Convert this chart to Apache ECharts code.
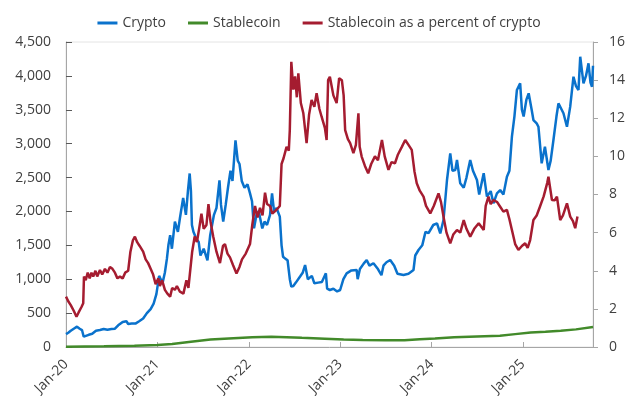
<!DOCTYPE html>
<html>
<head>
<meta charset="utf-8">
<script src="https://cdn.jsdelivr.net/npm/echarts@6/dist/echarts.min.js"></script>
<style>html,body{margin:0;padding:0;background:#fff}#c{width:638px;height:401px}</style>
</head>
<body>
<div id="c"></div>
<script>
// ---- Data ----
const seriesNames = ['Crypto', 'Stablecoin', 'Stablecoin as a percent of crypto'];
const xTickLabels = ['Jan-20', 'Jan-21', 'Jan-22', 'Jan-23', 'Jan-24', 'Jan-25'];
const leftTicks = [0, 500, 1000, 1500, 2000, 2500, 3000, 3500, 4000, 4500];
const rightTicks = [0, 2, 4, 6, 8, 10, 12, 14, 16];

// Crypto market cap (left axis)
const cryptoDates = [
'2020-01-01','2020-01-10','2020-01-20','2020-02-01','2020-02-14','2020-02-25','2020-03-05','2020-03-12','2020-03-20','2020-04-01','2020-04-15','2020-04-30','2020-05-16','2020-05-31','2020-06-15','2020-07-01','2020-07-15','2020-07-28','2020-08-15','2020-08-30','2020-09-06','2020-09-20','2020-10-05','2020-10-20','2020-11-05','2020-11-20','2020-11-26','2020-12-05','2020-12-17','2020-12-28',
'2021-01-08','2021-01-14','2021-01-22','2021-01-31','2021-02-08','2021-02-14','2021-02-21','2021-02-28','2021-03-12','2021-03-24','2021-04-01','2021-04-14','2021-04-25','2021-05-03','2021-05-10','2021-05-15','2021-05-19','2021-05-25','2021-06-05','2021-06-15','2021-06-22','2021-07-05','2021-07-20','2021-07-31','2021-08-15','2021-08-25','2021-09-06','2021-09-12','2021-09-21','2021-10-01','2021-10-10','2021-10-20','2021-10-28','2021-11-09','2021-11-18','2021-11-25','2021-12-04','2021-12-15','2021-12-27',
'2022-01-06','2022-01-14','2022-01-22','2022-02-02','2022-02-10','2022-02-24','2022-03-05','2022-03-15','2022-03-27','2022-04-04','2022-04-12','2022-04-22','2022-05-05','2022-05-12','2022-05-18','2022-05-28','2022-06-05','2022-06-14','2022-06-20','2022-06-28','2022-07-08','2022-07-25','2022-08-05','2022-08-14','2022-08-25','2022-09-10','2022-09-20','2022-10-05','2022-10-20','2022-11-05','2022-11-10','2022-11-21','2022-12-05','2022-12-20',
'2023-01-01','2023-01-14','2023-01-27','2023-02-15','2023-03-08','2023-03-12','2023-03-21','2023-04-05','2023-04-17','2023-04-28','2023-05-14','2023-06-01','2023-06-15','2023-06-23','2023-07-05','2023-07-20','2023-08-05','2023-08-18','2023-09-11','2023-10-01','2023-10-21','2023-10-28','2023-11-10','2023-11-25','2023-12-08','2023-12-20',
'2024-01-08','2024-01-23','2024-02-05','2024-02-18','2024-03-03','2024-03-16','2024-03-25','2024-04-05','2024-04-12','2024-04-25','2024-05-09','2024-05-20','2024-06-04','2024-06-15','2024-07-01','2024-07-10','2024-07-28','2024-08-10','2024-08-25','2024-09-05','2024-09-19','2024-10-02','2024-10-15','2024-10-29','2024-11-08','2024-11-18','2024-11-28','2024-12-08','2024-12-21','2024-12-28',
'2025-01-04','2025-01-15','2025-01-24','2025-02-05','2025-02-12','2025-02-25','2025-03-04','2025-03-17','2025-03-30','2025-04-13','2025-04-22','2025-05-03','2025-05-15','2025-05-23','2025-06-05','2025-06-12','2025-06-26','2025-07-09','2025-07-22','2025-08-01','2025-08-11','2025-08-18','2025-08-31','2025-09-10','2025-09-20','2025-09-28','2025-10-04','2025-10-08'];
const cryptoValues = [
190,210,240,270,300,270,250,152,170,180,195,240,250,265,255,265,270,320,370,380,340,345,345,380,420,500,480,560,640,780,
1050,1000,950,1100,1300,1500,1650,1450,1850,1700,1900,2200,1950,2300,2560,2300,1800,1700,1600,1550,1350,1450,1280,1650,1950,2050,2460,2100,1850,2100,2350,2600,2450,3050,2750,2700,2450,2350,2400,
2267,2150,1750,1972,2000,1750,1850,1800,1950,2267,2000,2050,1923,1500,1332,1300,1280,1000,890,900,950,1040,1100,1210,1000,1050,940,950,960,1087,860,841,860,820,
841,1000,1087,1130,1136,1000,1150,1230,1283,1200,1235,1150,1060,1200,1250,1283,1200,1080,1062,1080,1136,1350,1431,1500,1700,1680,
1800,1825,1677,1874,2464,2857,2600,2610,2760,2415,2350,2500,2759,2600,2464,2250,2563,2218,2300,2120,2267,2316,2250,2513,2600,3103,3400,3792,3890,3500,
3400,3650,3743,3500,3349,3300,3250,2710,2956,2611,2750,3054,3400,3595,3500,3448,3250,3546,3988,3850,3792,4283,3890,4000,4185,3900,3840,4150];

// Stablecoin market cap (left axis)
const stableDates = ['2020-01-01','2020-06-01','2020-10-01','2021-01-01','2021-03-01','2021-05-15','2021-08-01','2021-11-01','2022-01-15','2022-04-01','2022-06-01','2022-08-01','2022-11-01','2023-01-15','2023-04-01','2023-07-01','2023-09-15','2023-11-15','2024-01-15','2024-04-01','2024-07-01','2024-10-01','2024-12-01','2025-02-01','2025-04-01','2025-06-01','2025-08-01','2025-10-08'];
const stableValues = [5,10,18,28,45,78,110,130,145,150,145,135,122,110,105,100,98,115,125,145,155,165,190,215,225,240,260,295];

// Stablecoin as a percent of crypto (right axis)
const pctDates = [
'2020-01-01','2020-01-10','2020-01-20','2020-02-01','2020-02-12','2020-02-20','2020-03-03','2020-03-10','2020-03-13','2020-03-20','2020-03-28','2020-04-05','2020-04-12','2020-04-19','2020-04-28','2020-05-05','2020-05-16','2020-05-25','2020-06-05','2020-06-15','2020-06-25','2020-07-05','2020-07-15','2020-07-25','2020-08-04','2020-08-15','2020-08-25','2020-09-06','2020-09-15','2020-09-25','2020-10-03','2020-10-12','2020-10-22','2020-11-05','2020-11-15','2020-11-25','2020-12-05','2020-12-15','2020-12-25',
'2021-01-05','2021-01-11','2021-01-20','2021-01-31','2021-02-10','2021-02-21','2021-03-01','2021-03-12','2021-03-20','2021-04-01','2021-04-15','2021-04-27','2021-05-05','2021-05-12','2021-05-20','2021-05-30','2021-06-08','2021-06-18','2021-06-26','2021-07-05','2021-07-16','2021-07-24','2021-08-01','2021-08-12','2021-08-25','2021-09-08','2021-09-20','2021-09-28','2021-10-08','2021-10-18','2021-10-30','2021-11-13','2021-11-25','2021-12-05','2021-12-20',
'2022-01-06','2022-01-15','2022-01-26','2022-02-05','2022-02-15','2022-02-25','2022-03-07','2022-03-15','2022-03-27','2022-04-05','2022-04-22','2022-05-05','2022-05-12','2022-05-20','2022-06-01','2022-06-10','2022-06-14','2022-06-20','2022-06-28','2022-07-05','2022-07-12','2022-07-18','2022-07-28','2022-08-07','2022-08-20','2022-08-30','2022-09-09','2022-09-20','2022-09-29','2022-10-10','2022-10-19','2022-11-01','2022-11-08','2022-11-14','2022-11-21','2022-12-05','2022-12-18','2022-12-28',
'2023-01-08','2023-01-15','2023-01-21','2023-02-01','2023-02-10','2023-02-23','2023-03-05','2023-03-15','2023-03-20','2023-03-28','2023-04-10','2023-04-23','2023-05-05','2023-05-20','2023-06-01','2023-06-17','2023-06-28','2023-07-13','2023-07-25','2023-08-08','2023-08-20','2023-09-05','2023-09-18','2023-10-01','2023-10-14','2023-10-25','2023-11-03','2023-11-15','2023-11-30','2023-12-10','2023-12-27',
'2024-01-10','2024-01-29','2024-02-08','2024-02-18','2024-03-01','2024-03-16','2024-03-28','2024-04-12','2024-04-25','2024-05-09','2024-05-20','2024-06-04','2024-06-20','2024-07-08','2024-07-28','2024-08-05','2024-08-16','2024-08-25','2024-09-05','2024-09-20','2024-10-02','2024-10-15','2024-10-29','2024-11-08','2024-11-18','2024-12-01','2024-12-14','2024-12-28',
'2025-01-10','2025-01-20','2025-01-30','2025-02-12','2025-02-25','2025-03-10','2025-03-25','2025-04-08','2025-04-13','2025-04-27','2025-05-08','2025-05-17','2025-05-30','2025-06-10','2025-06-26','2025-07-09','2025-07-20','2025-07-29','2025-08-07'];
const pctValues = [
2.64,2.4,2.2,1.9,1.59,1.8,2.1,2.3,3.7,3.5,3.9,3.6,3.9,3.7,4.0,3.7,4.04,3.8,4.1,3.9,4.2,4.1,3.9,3.6,3.7,3.6,3.9,4.0,5.0,5.6,5.79,5.5,5.3,5.0,4.6,4.4,4.1,3.8,3.3,
3.6,3.2,3.5,3.0,2.8,2.64,3.1,3.0,3.2,2.9,2.8,3.5,3.1,3.16,5.0,5.8,5.5,6.3,7.0,6.2,6.4,7.5,6.6,5.8,5.0,4.4,5.3,5.4,4.9,4.7,4.3,3.86,4.2,4.6,4.9,
5.4,6.4,7.4,6.8,7.3,6.9,8.1,7.5,7.4,7.0,7.2,7.4,9.6,9.9,10.5,10.3,11.4,14.96,13.5,14.2,13.1,14.35,12.8,12.26,10.69,12.2,12.96,12.6,13.31,12.5,12.08,11.5,10.86,14.0,14.18,13.2,12.8,14.1,
13.99,13.2,11.38,10.9,10.69,10.17,10.6,12.26,10.5,9.99,9.5,9.11,9.6,10.0,9.8,10.86,10.0,9.29,9.7,9.64,10.1,10.51,10.86,10.6,10.34,9.2,8.59,8.2,7.89,7.4,7.01,
7.4,8.06,7.6,6.84,6.0,5.44,5.9,6.14,6.0,6.66,6.2,5.79,6.2,6.49,6.14,7.4,7.89,7.5,7.71,7.6,7.36,7.1,7.19,6.7,6.14,5.4,5.09,5.3,
5.44,5.2,5.61,6.66,6.9,7.36,7.9,8.6,8.93,7.71,7.7,7.89,6.66,6.9,7.54,6.84,6.6,6.23,6.84];

// ---- helpers ----
function decYear(s) {
  const d = Date.parse(s + 'T00:00:00Z');
  const y = Number(s.slice(0, 4));
  const a = Date.UTC(y, 0, 1), b = Date.UTC(y + 1, 0, 1);
  return y + (d - a) / (b - a);
}
function pairs(dates, vals) { return dates.map((d, i) => [decYear(d), vals[i]]); }

const FONT = 'Open Sans';
const axisColor = '#a6a6a6';
const labelColor = '#404040';

const chart = echarts.init(document.getElementById('c'), null, { renderer: 'canvas' });
chart.setOption({
  animation: false,
  backgroundColor: '#fff',
  textStyle: { fontFamily: FONT },
  legend: {
    top: 11,
    left: 'center',
    itemWidth: 20,
    itemHeight: 3,
    itemGap: 22,
    icon: 'rect',
    textStyle: { fontFamily: FONT, fontSize: 14, color: labelColor },
    data: seriesNames
  },
  grid: {
    left: 66, right: 45, top: 42, bottom: 54,
    show: true, borderColor: '#e4e4e4', borderWidth: 1
  },
  xAxis: {
    type: 'value',
    min: 2020,
    max: decYear('2025-10-08'),
    interval: 1,
    axisLine: { show: true, lineStyle: { color: axisColor, width: 1 } },
    axisTick: { show: true, inside: true, length: 5, lineStyle: { color: axisColor } },
    splitLine: { show: false },
    axisLabel: {
      rotate: 45, margin: 15, fontSize: 14, color: labelColor, fontFamily: FONT,
      showMaxLabel: false,
      formatter: v => {
        const i = Math.round(v) - 2020;
        return Math.abs(v - Math.round(v)) < 1e-6 && xTickLabels[i] ? xTickLabels[i] : '';
      }
    }
  },
  yAxis: [
    {
      type: 'value', min: 0, max: 4500, interval: 500, position: 'left',
      axisLine: { show: true, lineStyle: { color: axisColor } },
      axisTick: { show: true, inside: true, length: 6, lineStyle: { color: '#595959' } },
      splitLine: { show: false },
      axisLabel: {
        margin: 15, fontSize: 14, color: labelColor, fontFamily: FONT,
        formatter: v => leftTicks.includes(v) ? v.toLocaleString('en-US') : ''
      }
    },
    {
      type: 'value', min: 0, max: 16, interval: 2, position: 'right',
      axisLine: { show: true, lineStyle: { color: axisColor } },
      axisTick: { show: true, inside: false, length: 5, lineStyle: { color: axisColor } },
      splitLine: { show: false },
      axisLabel: {
        margin: 16, fontSize: 14, color: labelColor, fontFamily: FONT,
        formatter: v => rightTicks.includes(v) ? String(v) : ''
      }
    }
  ],
  series: [
    {
      name: seriesNames[0], type: 'line', yAxisIndex: 0, symbol: 'none',
      data: pairs(cryptoDates, cryptoValues),
      lineStyle: { color: '#0a72cc', width: 2.5 }, itemStyle: { color: '#0a72cc' }
    },
    {
      name: seriesNames[1], type: 'line', yAxisIndex: 0, symbol: 'none',
      data: pairs(stableDates, stableValues),
      lineStyle: { color: '#428a2a', width: 2.5 }, itemStyle: { color: '#428a2a' }
    },
    {
      name: seriesNames[2], type: 'line', yAxisIndex: 1, symbol: 'none',
      data: pairs(pctDates, pctValues),
      lineStyle: { color: '#a51c30', width: 2.5 }, itemStyle: { color: '#a51c30' }
    }
  ]
});
</script>
</body>
</html>
